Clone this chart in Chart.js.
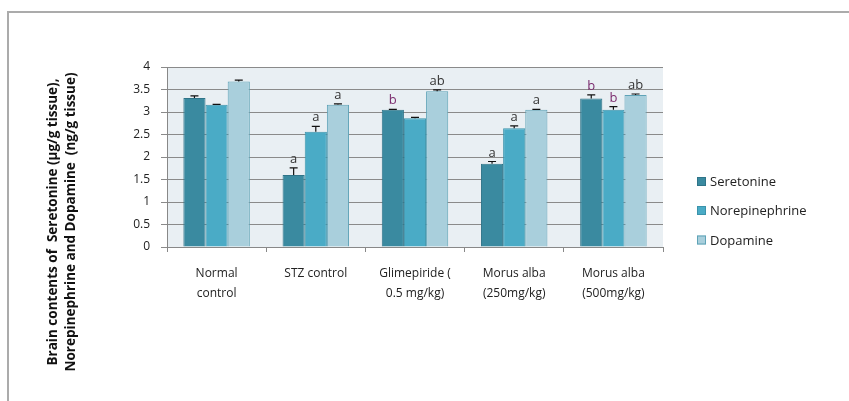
<!DOCTYPE html>
<html>
<head>
<meta charset="utf-8">
<script src="https://cdn.jsdelivr.net/npm/chart.js@4/dist/chart.umd.min.js"></script>
<style>
html,body{margin:0;padding:0;background:#fff;}
#wrap{width:849px;height:401px;position:relative;}
</style>
</head>
<body>
<div id="wrap"><canvas id="c" width="849" height="401"></canvas></div>
<script>
const categories = [["Normal","control"],["STZ control"],["Glimepiride (","0.5 mg/kg)"],["Morus alba","(250mg/kg)"],["Morus alba","(500mg/kg)"]];
const seriesNames = ["Seretonine","Norepinephrine","Dopamine"];
const seretonine = [3.31, 1.60, 3.05, 1.85, 3.30];
const norepinephrine = [3.16, 2.56, 2.86, 2.64, 3.05];
const dopamine = [3.68, 3.16, 3.46, 3.05, 3.38];
const seretonineErr = [0.05, 0.16, 0.01, 0.05, 0.08];
const norepinephrineErr = [0.01, 0.12, 0.02, 0.05, 0.07];
const dopamineErr = [0.03, 0.02, 0.03, 0.01, 0.02];
const seretonineSig = ["", "a", "b", "a", "b"];
const norepinephrineSig = ["", "a", "", "a", "b"];
const dopamineSig = ["", "a", "ab", "a", "ab"];
const yTicks = [0, 0.5, 1, 1.5, 2, 2.5, 3, 3.5, 4];
const yTitle = ["Brain contents of  Seretonine (\u00b5g/g tissue),", "Norepinephrine and Dopamine  (ng/g tissue)"];

const FONT = "'Open Sans', sans-serif";
const fills = ["#3a8aa0", "#4aabc6", "#a9cfdc"];
const borders = ["#2f7488", "#3b93ab", "#5fa3b7"];
const errs = [seretonineErr, norepinephrineErr, dopamineErr];
const sigs = [seretonineSig, norepinephrineSig, dopamineSig];

const decor = {
  id: 'decor',
  beforeDraw(chart) {
    const ctx = chart.ctx, a = chart.chartArea;
    ctx.save();
    ctx.fillStyle = '#fff';
    ctx.fillRect(0, 0, chart.width, chart.height);
    ctx.fillStyle = '#e9eff3';
    ctx.fillRect(a.left, a.top, a.right - a.left, a.bottom - a.top);
    ctx.strokeStyle = '#ababab';
    ctx.lineWidth = 2;
    ctx.beginPath();
    ctx.moveTo(8, 401);
    ctx.lineTo(8, 12);
    ctx.lineTo(849, 12);
    ctx.stroke();
    ctx.restore();
  },
  afterDatasetsDraw(chart) {
    const ctx = chart.ctx, y = chart.scales.y;
    ctx.save();
    chart.data.datasets.forEach((ds, di) => {
      const meta = chart.getDatasetMeta(di);
      meta.data.forEach((bar, i) => {
        const v = ds.data[i], e = errs[di][i];
        const top = y.getPixelForValue(v + e);
        const x = bar.x;
        ctx.strokeStyle = '#111';
        ctx.lineWidth = 1.2;
        ctx.beginPath();
        ctx.moveTo(x, y.getPixelForValue(v));
        ctx.lineTo(x, top);
        ctx.moveTo(x - 4, top);
        ctx.lineTo(x + 4, top);
        ctx.stroke();
        const s = sigs[di][i];
        if (s) {
          ctx.font = "13px " + FONT;
          ctx.textAlign = 'center';
          ctx.textBaseline = 'alphabetic';
          ctx.fillStyle = s === 'b' ? '#7b2c6e' : '#333';
          ctx.fillText(s, x, top - 5);
        }
      });
    });
    ctx.font = "bold 13.5px " + FONT;
    ctx.fillStyle = '#111';
    ctx.textAlign = 'center';
    ctx.textBaseline = 'middle';
    const xs = [53, 71];
    yTitle.forEach((t, k) => {
      ctx.save();
      ctx.translate(xs[k], 222);
      ctx.rotate(-Math.PI / 2);
      ctx.fillText(t, 0, 0);
      ctx.restore();
    });
    ctx.font = "13px " + FONT;
    ctx.textAlign = 'left';
    const ly = [181.5, 210.5, 240];
    chart.data.datasets.forEach((ds, di) => {
      ctx.fillStyle = ds.backgroundColor;
      ctx.strokeStyle = ds.borderColor;
      ctx.lineWidth = 1;
      ctx.fillRect(697, ly[di] - 4.5, 9, 9);
      ctx.strokeRect(697.5, ly[di] - 4, 8, 8);
      ctx.fillStyle = '#222';
      ctx.fillText(ds.label, 710, ly[di] + 1);
    });
    ctx.restore();
  }
};

const valueLists = [seretonine, norepinephrine, dopamine];
new Chart(document.getElementById('c'), {
  type: 'bar',
  data: {
    labels: categories,
    datasets: seriesNames.map((n, i) => ({
      label: n,
      data: valueLists[i],
      backgroundColor: fills[i],
      borderColor: borders[i],
      borderWidth: 1,
      categoryPercentage: 0.67,
      barPercentage: 1.0
    }))
  },
  options: {
    responsive: false,
    animation: false,
    devicePixelRatio: 1,
    layout: { padding: { left: 0, top: 67, right: 186, bottom: 0 } },
    plugins: { legend: { display: false }, tooltip: { enabled: false } },
    scales: {
      x: {
        offset: true,
        grid: { display: true, drawOnChartArea: false, offset: true, color: '#888', tickLength: 5 },
        border: { color: '#888' },
        ticks: { color: '#222', font: { family: FONT, size: 12, lineHeight: 1.65 }, padding: 12, maxRotation: 0, autoSkip: false },
        afterFit(s) { s.height = 154; }
      },
      y: {
        min: 0, max: 4,
        afterBuildTicks(s) { s.ticks = yTicks.map(v => ({ value: v })); },
        grid: { color: '#8a8a8a', tickLength: 6 },
        border: { color: '#888' },
        ticks: { color: '#222', font: { family: FONT, size: 12 }, padding: 11, callback: v => String(v) },
        afterFit(s) { s.width = 167; }
      }
    }
  },
  plugins: [decor]
});
</script>
</body>
</html>
